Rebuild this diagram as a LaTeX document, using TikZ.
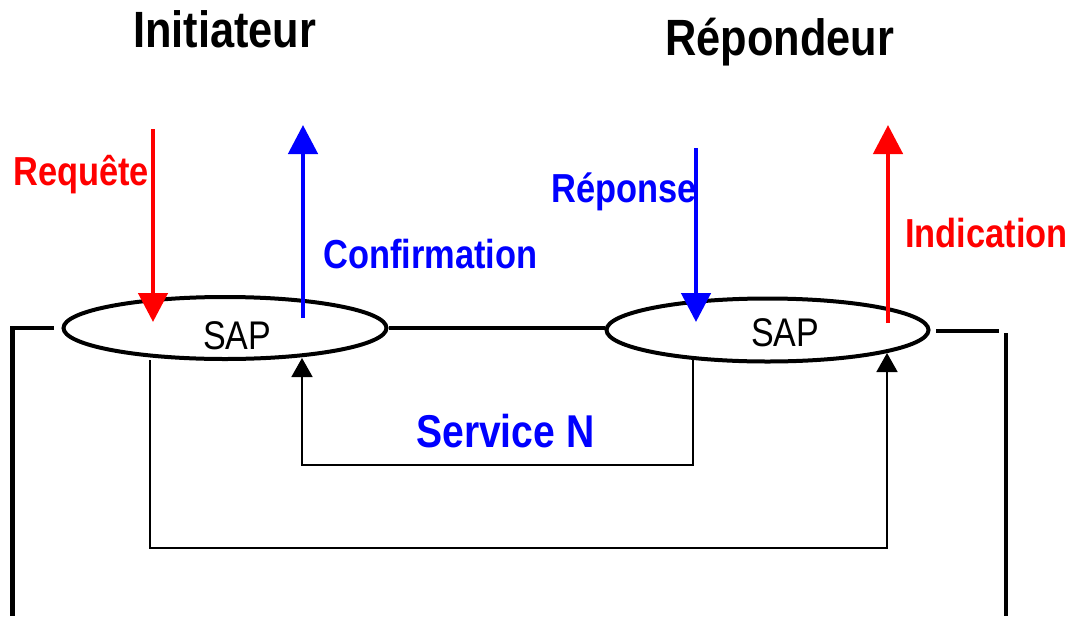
\documentclass[tikz,border=0pt]{standalone}
\usepackage{fontspec}
\setmainfont{Liberation Sans}
\newfontfamily\cond[FakeStretch=0.85]{Liberation Sans}
\usetikzlibrary{arrows.meta,shapes.geometric}
\definecolor{pred}{RGB}{255,0,0}
\definecolor{pblue}{RGB}{0,0,255}
\tikzset{
  txt/.style={inner sep=0pt, anchor=base west},
  title/.style={txt, font=\cond\bfseries\fontsize{51}{55}\selectfont},
  lab/.style={txt, font=\cond\bfseries\fontsize{40.5}{44}\selectfont},
  saplab/.style={txt, font=\cond\fontsize{40}{44}\selectfont},
  sap/.style={draw, ellipse, line width=4pt, inner sep=0pt},
  thick line/.style={line width=4.5pt},
  thin line/.style={line width=1.8pt},
  prim/.style={line width=4.7pt, -{Triangle[length=29pt,width=29pt]}},
  back/.style={thin line, -{Triangle[length=19pt,width=21pt]}}
}
\begin{document}
\begin{tikzpicture}[x=1pt,y=-1pt]
\useasboundingbox (0,0) rectangle (1067,616);
% ellipses
\node[sap, minimum width=323pt, minimum height=62pt] (L) at (225,328) {};
\node[sap, minimum width=322pt, minimum height=63pt] (R) at (767.5,330) {};
\node[saplab] (sapL) at (203,349) {SAP};
\node[saplab] (sapR) at (751,346) {SAP};
% titles
\node[title] (ini) at (133,47) {Initiateur};
\node[title] (rep) at (665,55) {Répondeur};
% labels
\node[lab, text=pred] (req) at (13,185) {Requête};
\node[lab, text=pblue] (conf) at (323,268) {Confirmation};
\node[lab, text=pblue] (repo) at (551,202) {Réponse};
\node[lab, text=pred] (ind) at (905,247) {Indication};
\node[lab, text=pblue, font=\cond\bfseries\fontsize{46}{50}\selectfont] (serv) at (416,447) {Service N};
% coordinates
\coordinate (reqS) at (153,129);
\coordinate (reqE) at (153,322);
\coordinate (confS) at (303,318);
\coordinate (confE) at (303,125);
\coordinate (repS) at (696,148);
\coordinate (repE) at (696,322);
\coordinate (indS) at (888,323);
\coordinate (indE) at (888,125);
\coordinate (lo1) at (54,328);
\coordinate (lo2) at (12.5,328);
\coordinate (lo3) at (12.5,616);
\coordinate (ro1) at (936,331);
\coordinate (ro2) at (999,331);
\coordinate (ro3) at (1006,333);
\coordinate (ro4) at (1006,616);
\coordinate (in1) at (693,357);
\coordinate (in2) at (693,465);
\coordinate (in3) at (302,465);
\coordinate (in4) at (302,358);
\coordinate (out1) at (150,360);
\coordinate (out2) at (150,548);
\coordinate (out3) at (887,548);
\coordinate (out4) at (887,353);
% primitives
\draw[prim, pred] (reqS) -- (reqE);
\draw[prim, pblue] (confS) -- (confE);
\draw[prim, pblue] (repS) -- (repE);
\draw[prim, pred] (indS) -- (indE);
% medium lines
\draw[thick line] (lo1) -- (lo2) -- (lo3);
\draw[thick line] (ro1) -- (ro2);
\draw[thick line] (ro3) -- (ro4);
\draw[line width=4pt] (L.east) -- (R.west |- L.east);
% service paths
\draw[back] (in1) -- (in2) -- (in3) -- (in4);
\draw[back] (out1) -- (out2) -- (out3) -- (out4);
\end{tikzpicture}
\end{document}
